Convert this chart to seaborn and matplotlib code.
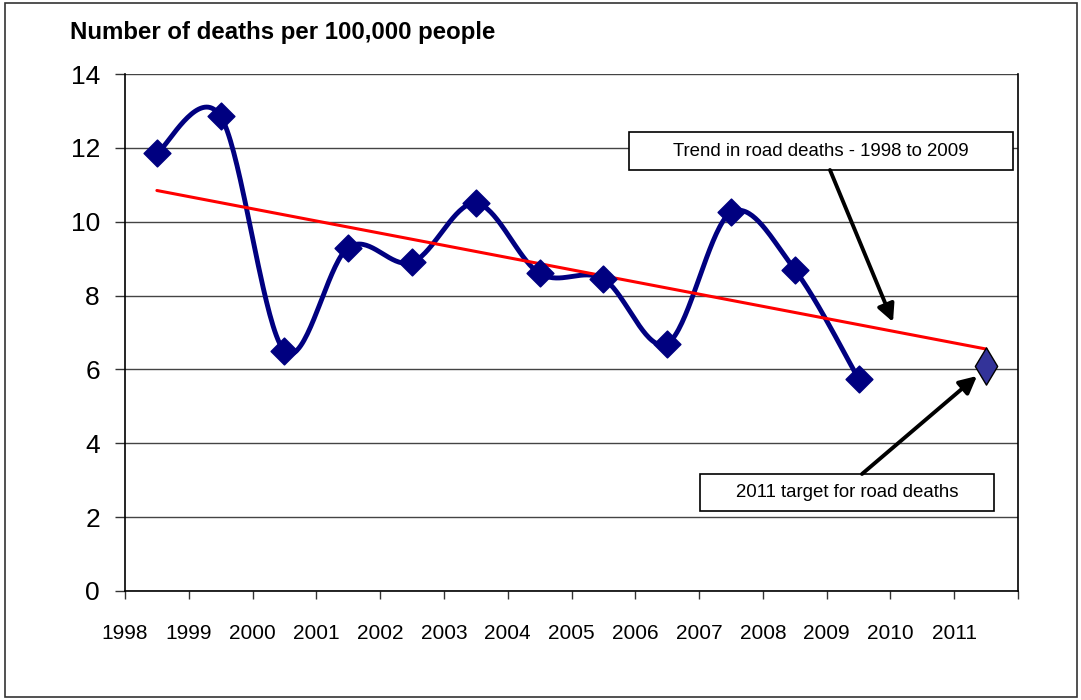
import numpy as np
import pandas as pd
import matplotlib
matplotlib.use('Agg')
import matplotlib.pyplot as plt
import seaborn as sns
from matplotlib.patches import Rectangle

# data
years = [1998, 1999, 2000, 2001, 2002, 2003, 2004, 2005, 2006, 2007, 2008, 2009]
deaths = [11.85, 12.85, 6.5, 9.3, 8.9, 10.5, 8.6, 8.45, 6.7, 10.25, 8.7, 5.75]
target_year = 2011
target_value = 6.1
tick_years = [1998, 1999, 2000, 2001, 2002, 2003, 2004, 2005, 2006, 2007, 2008, 2009, 2010, 2011]

sns.set_theme(style='white')
plt.rcParams['font.family'] = ['Liberation Sans', 'DejaVu Sans']
plt.rcParams['text.color'] = 'black'
plt.rcParams['xtick.color'] = 'black'
plt.rcParams['ytick.color'] = 'black'


def excel_smooth(x, y, n=40):
    """Bezier smoothing like Excel's smoothed line"""
    pts = np.column_stack([x, y]).astype(float)
    out = []
    for i in range(len(pts) - 1):
        p0 = pts[i - 1] if i > 0 else pts[i]
        p1 = pts[i]
        p2 = pts[i + 1]
        p3 = pts[i + 2] if i + 2 < len(pts) else pts[i + 1]
        c1 = p1 + (p2 - p0) / 6
        c2 = p2 - (p3 - p1) / 6
        t = np.linspace(0, 1, n)[:, None]
        seg = (1 - t) ** 3 * p1 + 3 * (1 - t) ** 2 * t * c1 + 3 * (1 - t) * t ** 2 * c2 + t ** 3 * p2
        out.append(seg if i == 0 else seg[1:])
    return np.vstack(out)


# points sit in the middle of each year category
xpos = np.array(years) + 0.5
df = pd.DataFrame({'x': xpos, 'y': deaths})
curve = excel_smooth(xpos, deaths)
curve_df = pd.DataFrame({'x': curve[:, 0], 'y': curve[:, 1]})

# linear trend of 1998-2009, extended to the target year
coef = np.polyfit(xpos, deaths, 1)
trend_x = np.array([xpos[0], target_year + 0.5])
trend_df = pd.DataFrame({'x': trend_x, 'y': np.polyval(coef, trend_x)})

fig = plt.figure(figsize=(10.81, 7.0), dpi=100)
ax = fig.add_axes([125 / 1081, 1 - 591 / 700, (1018 - 125) / 1081, (591 - 74) / 700])

sns.lineplot(data=curve_df, x='x', y='y', sort=False, color='#000080', lw=3.5, ax=ax, zorder=3)
sns.lineplot(data=trend_df, x='x', y='y', color='#FF0000', lw=2.2, ax=ax, zorder=4)
sns.scatterplot(data=df, x='x', y='y', marker='D', s=185, color='#000080', edgecolor='#000080', ax=ax, zorder=5)
ax.scatter([target_year + 0.5], [target_value], marker='d', s=360, color='#333399',
           edgecolor='black', linewidth=1.0, zorder=6)

ax.set_xlim(1998, 2012)
ax.set_ylim(0, 14)
ax.set_xticks(range(1998, 2013))
ax.set_xticklabels([str(y) for y in tick_years] + [''])
ax.set_yticks(range(0, 15, 2))
ax.set_xlabel('')
ax.set_ylabel('')
ax.yaxis.grid(True, color='#444444', lw=1.0)
ax.set_axisbelow(True)
ax.tick_params(axis='x', direction='out', length=6, width=1, color='#333333',
               pad=18, labelsize=15, bottom=True)
ax.tick_params(axis='y', direction='out', length=7, width=1, color='#333333',
               pad=11, labelsize=19, left=True)
ax.spines['top'].set_visible(False)
for s in ['left', 'bottom', 'right']:
    ax.spines[s].set_color('black')
    ax.spines[s].set_linewidth(1.2)

# title
fig.text(70 / 1081, 1 - 32 / 700, 'Number of deaths per 100,000 people',
         fontsize=17.3, fontweight='bold', va='center', ha='left')


# annotation boxes (pixel layout -> data coords)
def px2data(px, py):
    return 1998 + (px - 125) / ((1018 - 125) / 14), (591 - py) / ((591 - 74) / 14)


def text_box(x0, y0, x1, y1, label):
    a = px2data(x0, y1)
    b = px2data(x1, y0)
    ax.add_patch(Rectangle(a, b[0] - a[0], b[1] - a[1], facecolor='white',
                           edgecolor='black', lw=1.2, zorder=7))
    ax.text((a[0] + b[0]) / 2, (a[1] + b[1]) / 2, label, ha='center', va='center',
            fontsize=13.4, zorder=8)


text_box(629, 132, 1013, 170, 'Trend in road deaths - 1998 to 2009')
text_box(700, 474, 994, 511, '2011 target for road deaths')

arrow = dict(arrowstyle='-|>', lw=2.8, color='black', mutation_scale=26, shrinkA=0, shrinkB=0)
ax.annotate('', xy=px2data(893, 322), xytext=px2data(830, 170), arrowprops=arrow, zorder=9)
ax.annotate('', xy=px2data(977, 376), xytext=px2data(862, 474), arrowprops=arrow, zorder=9)

# outer frame
fig.patches.append(Rectangle((5 / 1081, 3 / 700), 1 - 9 / 1081, 1 - 6 / 700,
                             transform=fig.transFigure, fill=False,
                             edgecolor='#333333', lw=1.2))

fig.savefig('out.png', dpi=100)
